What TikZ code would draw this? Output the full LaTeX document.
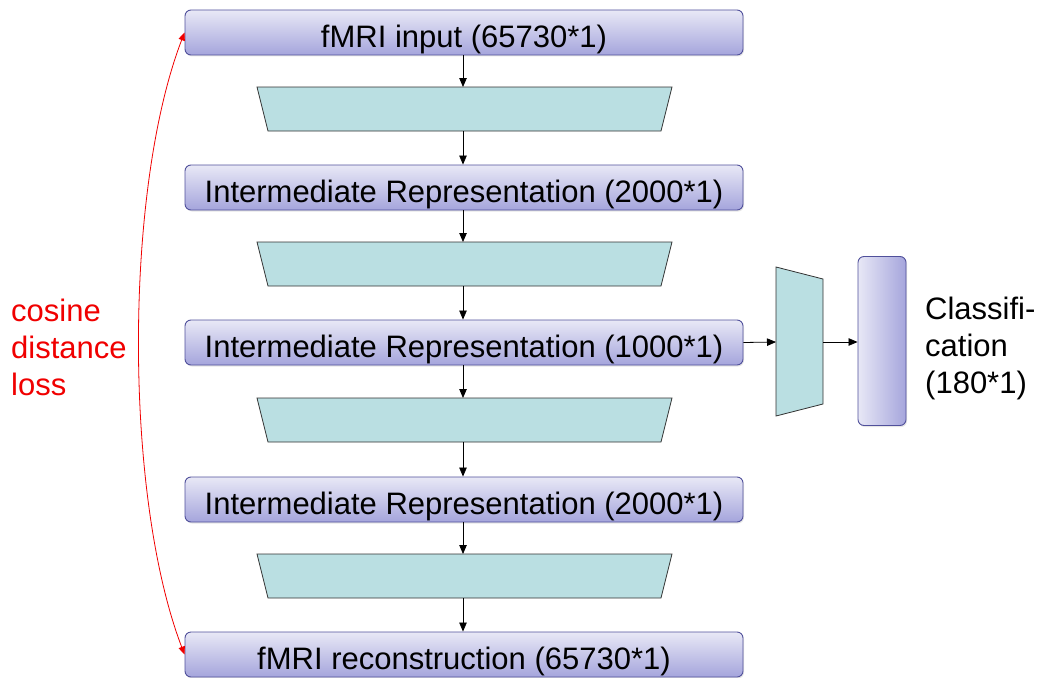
\documentclass[tikz,border=0pt]{standalone}
\usepackage{fontspec}
\setmainfont{Liberation Sans}
\usetikzlibrary{arrows.meta,shadows}
\definecolor{boxtop}{RGB}{232,232,246}
\definecolor{boxbot}{RGB}{165,165,220}
\definecolor{boxline}{RGB}{80,80,155}
\definecolor{layerfill}{RGB}{186,223,226}
\definecolor{layerline}{RGB}{50,50,50}
\definecolor{lossred}{RGB}{240,0,0}
\tikzset{
  repbox/.style={draw=boxline, line width=0.9pt, rounded corners=6pt,
    top color=boxtop, bottom color=boxbot,
    minimum width=558pt, minimum height=45pt, inner sep=0pt,
    text height=30pt, text depth=0pt,
    font=\fontsize{31}{37}\selectfont,
    drop shadow={shadow xshift=1pt, shadow yshift=-1.5pt, opacity=0.2}},
  classbox/.style={draw=boxline, line width=0.9pt, rounded corners=6pt,
    left color=boxtop, right color=boxbot,
    minimum width=48pt, minimum height=169pt, inner sep=0pt,
    drop shadow={shadow xshift=1pt, shadow yshift=-1.5pt, opacity=0.2}},
  layer/.style={draw=layerline, fill=layerfill, line width=0.8pt},
  flow/.style={-{Triangle[length=9pt,width=7.5pt]}, line width=0.8pt, black},
  lossarc/.style={{Triangle[length=8pt,width=6.5pt]}-{Triangle[length=8pt,width=6.5pt]}, line width=0.8pt, lossred},
  sidetext/.style={font=\fontsize{31}{37}\selectfont, align=left, anchor=base west, inner sep=0pt}
}
\begin{document}
\begin{tikzpicture}[x=1pt,y=-1pt]
\useasboundingbox (0,0) rectangle (1046,677);

% main column of representation boxes
\node[repbox] (b1) at (464,32.5) {fMRI input (65730*1)};
\node[repbox] (b2) at (464,187.5) {Intermediate Representation (2000*1)};
\node[repbox] (b3) at (464,342.5) {Intermediate Representation (1000*1)};
\node[repbox] (b4) at (464,499.5) {Intermediate Representation (2000*1)};
\node[repbox] (b5) at (464,654.5) {fMRI reconstruction (65730*1)};

% encoder / decoder layers between the boxes
\foreach \i/\y in {1/87,2/242,3/398,4/554}{
  \draw[layer] (257,\y) -- (672,\y) -- (661,\y+44) -- (268,\y+44) -- cycle;
  \coordinate (l\i t) at (463,\y);
  \coordinate (l\i b) at (463,\y+44);
}

% classifier branch
\draw[layer] (776,267) -- (823,279) -- (823,404) -- (776,416) -- cycle;
\coordinate (cin) at (776,342);
\coordinate (cout) at (823,342);
\node[classbox] (cls) at (882,341) {};
% multi-line nodes are placed by the baseline of their last line
\node[sidetext] (clstext) at (925,393) {Classifi-\\cation\\(180*1)};

% vertical flow
\draw[flow] (b1.south -| l1t) -- (l1t);
\draw[flow] (l1b) -- (l1b |- b2.north);
\draw[flow] (b2.south -| l2t) -- (l2t);
\draw[flow] (l2b) -- (l2b |- b3.north);
\draw[flow] (b3.south -| l3t) -- (l3t);
\draw[flow] (l3b) -- (l3b |- b4.north);
\draw[flow] (b4.south -| l4t) -- (l4t);
\draw[flow] (l4b) -- (l4b |- b5.north);

% horizontal flow into the classifier
\draw[flow] (b3.east) -- (cin);
\draw[flow] (cout) -- (cout -| cls.west);

% reconstruction loss
\draw[lossarc] (b1.west) .. controls (124,190) and (124,496) .. (b5.west);
\node[sidetext, text=lossred] (loss) at (11,395) {cosine\\distance\\loss};
\end{tikzpicture}
\end{document}
